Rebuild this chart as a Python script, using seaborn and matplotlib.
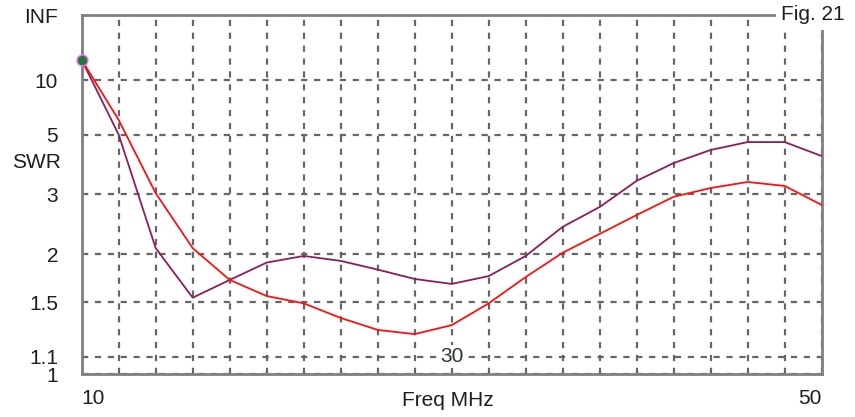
import numpy as np
import pandas as pd
import matplotlib
matplotlib.use("Agg")
import matplotlib.pyplot as plt
import seaborn as sns

# ---- data ----
freq_mhz = [10, 12, 14, 16, 18, 20, 22, 24, 26, 28, 30, 32, 34, 36, 38, 40, 42, 44, 46, 48, 50]
swr_purple = [15.0, 5.0, 2.08, 1.54, 1.71, 1.90, 1.98, 1.92, 1.82, 1.72, 1.67, 1.75, 1.98, 2.39,
              2.74, 3.33, 3.85, 4.32, 4.65, 4.65, 4.09]
swr_red = [15.0, 5.84, 3.03, 2.08, 1.71, 1.555, 1.49, 1.37, 1.28, 1.25, 1.315, 1.49, 1.74, 2.02,
           2.28, 2.59, 2.95, 3.15, 3.30, 3.20, 2.78]
y_ticks = [1, 1.1, 1.5, 2, 3, 5, 10]
y_tick_labels = ["1", "1.1", "1.5", "2", "3", "5", "10"]
x_edge_labels = ["10", "50"]
mid_label = "30"
title_text = "Fig. 21"

df = pd.DataFrame({
    "freq": freq_mhz * 2,
    "swr": swr_purple + swr_red,
    "series": ["A"] * len(freq_mhz) + ["B"] * len(freq_mhz),
})

sns.set_theme(style="white")
plt.rcParams["font.family"] = ["Liberation Sans", "DejaVu Sans"]

FS = 15
TXT = "#1e1e1e"
GRID = "#666666"
FRAME = "#808080"


def fwd(s):
    s = np.asarray(s, dtype=float)
    return (s - 1.0) / (s + 1.0)


def inv(r):
    r = np.clip(np.asarray(r, dtype=float), -0.999999, 0.99999999)
    return (1.0 + r) / (1.0 - r)


fig = plt.figure(figsize=(8.55, 4.17), dpi=100)
ax = fig.add_axes([81.7 / 855, 1 - 374 / 417, 740 / 855, 359 / 417])

ax.set_yscale("function", functions=(fwd, inv))
INF_VAL = 1e8
ax.set_ylim(1, INF_VAL)
ax.set_xlim(10, 50)

sns.lineplot(data=df, x="freq", y="swr", hue="series",
             palette={"A": "#8c1d5a", "B": "#ff1010"},
             linewidth=1.3, legend=False, ax=ax, zorder=3, estimator=None, sort=False)

# start marker
ax.scatter([freq_mhz[0]], [swr_purple[0]], s=60, c="#1f7a3c",
           edgecolors="#ff66ff", linewidths=1.0, zorder=6, clip_on=False)

# ticks
ax.set_yticks(y_ticks + [INF_VAL])
ax.set_yticklabels(y_tick_labels + ["INF"])
xt = list(range(10, 51, 2))
ax.set_xticks(xt)
xl = [""] * len(xt)
xl[0] = x_edge_labels[0]
xl[-1] = x_edge_labels[1]
ax.set_xticklabels(xl)
ax.tick_params(axis="both", length=0, labelsize=FS, labelcolor=TXT)
ax.tick_params(axis="y", pad=17)
ax.tick_params(axis="x", pad=11)
lbls = ax.get_xticklabels()
lbls[0].set_ha("left")
lbls[-1].set_ha("right")

# grid
ax.grid(True, which="major", color=GRID, linewidth=1.6, linestyle=(0, (2.8, 3.0)))
ax.set_axisbelow(True)

for sp in ax.spines.values():
    sp.set_visible(True)
    sp.set_color(FRAME)
    sp.set_linewidth(2.0)

ax.set_xlabel("")
ax.set_ylabel("")

# inner labels
ax.text(30, 1.1, mid_label, ha="center", va="center", fontsize=FS, color="#2b3636",
        bbox=dict(facecolor="white", edgecolor="none", pad=1.5), zorder=4)

fig.text(448 / 855, 1 - 400 / 417, "Freq MHz", ha="center", va="center", fontsize=FS, color=TXT)
fig.text(12 / 855, 1 - 163 / 417, "SWR", ha="left", va="center", fontsize=FS, color=TXT)
fig.text(813 / 855, 1 - 15 / 417, title_text, ha="center", va="center", fontsize=FS, color=TXT,
         bbox=dict(facecolor="white", edgecolor="none", pad=4))

fig.savefig("out.png", dpi=100, facecolor="white")
